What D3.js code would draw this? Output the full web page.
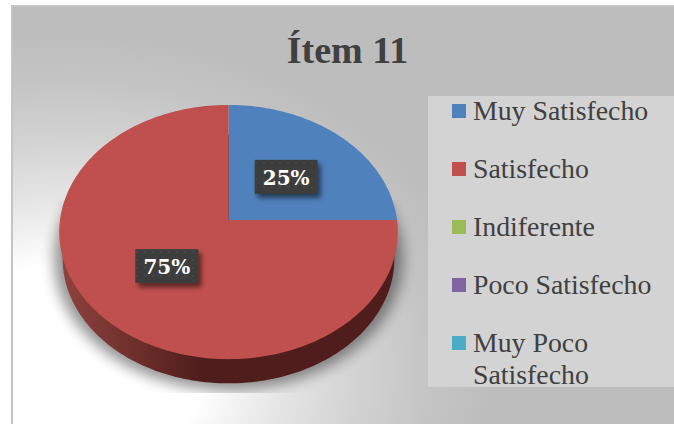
<!DOCTYPE html>
<html lang="es">
<head>
<meta charset="utf-8"/>
<script src="https://d3js.org/d3.v7.min.js"></script>
<style>
  body { margin: 0; background: #fff; }
  svg { display: block; }
  text { font-family: "Liberation Serif", serif; }
</style>
</head>
<body>
<script>
var categories = ["Muy Satisfecho", "Satisfecho", "Indiferente", "Poco Satisfecho", "Muy Poco Satisfecho"];
var values = [25, 75, 0, 0, 0];
var colors = ["#4f81bd", "#c0504d", "#9bbb59", "#8064a2", "#4bacc6"];
var chartTitle = "Ítem 11";

var width = 674, height = 424;

var svg = d3.select("body").append("svg")
    .attr("width", width)
    .attr("height", height);
var defs = svg.append("defs");

// chart background, white bottom left going to grey
var bg = defs.append("radialGradient").attr("id", "bg")
    .attr("gradientUnits", "userSpaceOnUse")
    .attr("gradientTransform", "translate(70,370) scale(1,0.8)")
    .attr("cx", 0).attr("cy", 0).attr("r", 440);
bg.append("stop").attr("offset", "0.30").attr("stop-color", "#ffffff");
bg.append("stop").attr("offset", "0.48").attr("stop-color", "#e6e6e6");
bg.append("stop").attr("offset", "0.64").attr("stop-color", "#d4d4d4");
bg.append("stop").attr("offset", "0.82").attr("stop-color", "#c4c4c4");
bg.append("stop").attr("offset", "0.96").attr("stop-color", "#bdbdbd");

svg.append("rect")
    .attr("x", 12).attr("y", 6)
    .attr("width", width).attr("height", height)
    .attr("fill", "url(#bg)")
    .attr("stroke", "#c4c4c4").attr("stroke-width", 2);

// pie seen in perspective: near side of the disc is drawn bigger
var cx = 228.5, cy = 220, rx = 168.5, ry = 126, k = 0.0945, depth = 27;

function project(x, y, shrink) {
  var w = 1 - k * y, s = shrink || 1;
  return [cx + s * rx * x / w, cy + s * ry * y / w];
}

var pie = d3.pie().sort(null).value(function(d) { return d; });
var slices = pie(values);
var line = d3.line();

function outline(start, end, shrink) {
  var n = Math.max(2, Math.ceil((end - start) * 40));
  return d3.range(n + 1).map(function(i) {
    var a = start + (end - start) * i / n;
    return project(Math.sin(a), -Math.cos(a), shrink);
  });
}

// shadow on the floor
var clip = defs.append("clipPath").attr("id", "shadowClip");
clip.append("rect").attr("x", 40).attr("y", 200).attr("width", 380).attr("height", 193);
var blur = defs.append("filter").attr("id", "blur")
    .attr("x", "-20%").attr("y", "-20%").attr("width", "140%").attr("height", "140%");
blur.append("feGaussianBlur").attr("stdDeviation", 7);

svg.append("g").attr("clip-path", "url(#shadowClip)")
  .append("path")
    .attr("d", line(outline(0, 2 * Math.PI, 1.03)) + "Z")
    .attr("transform", "translate(0,27)")
    .attr("fill", "#000").attr("opacity", 0.42)
    .attr("filter", "url(#blur)");

// side wall
var side = defs.append("linearGradient").attr("id", "side")
    .attr("gradientUnits", "userSpaceOnUse")
    .attr("x1", 62).attr("x2", 200).attr("y1", 0).attr("y2", 0);
side.append("stop").attr("offset", "0").attr("stop-color", "#8f423e");
side.append("stop").attr("offset", "1").attr("stop-color", "#4f1e1c");

svg.append("path")
    .attr("d", line(outline(0, 2 * Math.PI, 0.98)) + "Z")
    .attr("transform", "translate(0," + depth + ")")
    .attr("fill", "url(#side)");

// top faces
svg.append("g").selectAll("path")
  .data(slices.filter(function(d) { return d.value > 0; }))
  .enter().append("path")
    .attr("d", function(d) {
      return line([[cx, cy]].concat(outline(d.startAngle, d.endAngle))) + "Z";
    })
    .attr("fill", function(d) { return colors[d.index]; });

// data labels
var pattern = defs.append("pattern").attr("id", "dots")
    .attr("patternUnits", "userSpaceOnUse").attr("width", 8).attr("height", 8);
pattern.append("rect").attr("width", 8).attr("height", 8).attr("fill", "#3c3c3c");
pattern.append("circle").attr("cx", 2).attr("cy", 2).attr("r", 0.9).attr("fill", "#4c4c4c");

var labelShadow = defs.append("filter").attr("id", "labelShadow")
    .attr("x", "-30%").attr("y", "-30%").attr("width", "160%").attr("height", "170%");
labelShadow.append("feDropShadow")
    .attr("dx", 3).attr("dy", 4).attr("stdDeviation", 2.5)
    .attr("flood-color", "#000").attr("flood-opacity", 0.55);

var boxW = 63, boxH = 34;
var labels = svg.append("g").selectAll("g")
  .data(slices.filter(function(d) { return d.value > 0; }))
  .enter().append("g")
    .attr("transform", function(d) {
      var a = (d.startAngle + d.endAngle) / 2;
      var p = project(0.5 * Math.sin(a), -0.5 * Math.cos(a));
      return "translate(" + p[0] + "," + p[1] + ")";
    });

labels.append("rect")
    .attr("x", -boxW / 2).attr("y", -boxH / 2)
    .attr("width", boxW).attr("height", boxH)
    .attr("fill", "url(#dots)")
    .attr("filter", "url(#labelShadow)");

labels.append("text")
    .attr("text-anchor", "middle")
    .attr("dy", 8)
    .style("font-family", "'DejaVu Serif', serif")
    .style("font-weight", "bold")
    .style("font-size", "20px")
    .attr("fill", "#fff")
    .text(function(d) { return d.value + "%"; });

// title
svg.append("text")
    .attr("x", 347.5).attr("y", 63)
    .attr("text-anchor", "middle")
    .style("font-weight", "bold")
    .style("font-size", "38px")
    .attr("fill", "#404040")
    .text(chartTitle);

// legend
var legendTop = 96, legendBottom = 387;
svg.append("rect")
    .attr("x", 428).attr("y", legendTop)
    .attr("width", width - 428).attr("height", legendBottom - legendTop)
    .attr("fill", "#d3d3d3");

var legendY = d3.scalePoint().domain(categories).range([111, 343]);

var items = svg.append("g").selectAll("g")
  .data(categories)
  .enter().append("g")
    .attr("transform", function(d) { return "translate(452," + legendY(d) + ")"; });

items.append("rect")
    .attr("y", -7)
    .attr("width", 14).attr("height", 14)
    .attr("fill", function(d, i) { return colors[i]; });

items.append("text")
    .attr("x", 21)
    .attr("y", 9)
    .style("font-size", "27.8px")
    .attr("fill", "#404040")
    .each(function(d) {
      // wrap long names the way the legend does
      var t = d3.select(this), words = d.split(" "), cur = [];
      var span = t.append("tspan").attr("x", 21);
      words.forEach(function(w) {
        cur.push(w);
        span.text(cur.join(" "));
        if (span.node().getComputedTextLength() > 190 && cur.length > 1) {
          cur.pop();
          span.text(cur.join(" "));
          cur = [w];
          span = t.append("tspan").attr("x", 21).attr("dy", 32).text(w);
        }
      });
    });
</script>
</body>
</html>
